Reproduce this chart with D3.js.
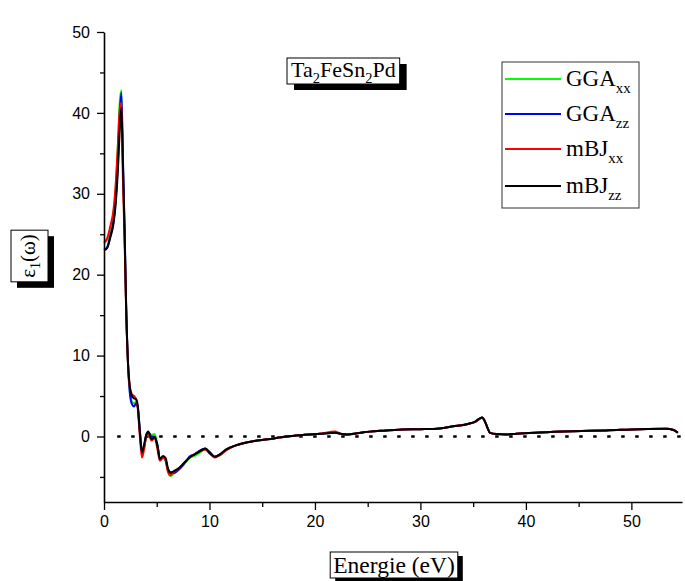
<!DOCTYPE html>
<html>
<head>
<meta charset="utf-8">
<script src="https://cdn.jsdelivr.net/npm/d3@7/dist/d3.min.js"></script>
<style>
  body { margin: 0; background: #fff; }
  svg { display: block; }
  .tick text { font-family: "Liberation Sans", Arial, sans-serif; font-size: 16px; }
  .serif { font-family: "Liberation Serif", "Times New Roman", serif; }
</style>
</head>
<body>
<div id="chart"></div>
<script>
// photon energy (eV), shared by all four curves
const energy = [
  0, 0.3, 0.6, 0.9, 1.1, 1.3, 1.5, 1.65, 1.8, 1.95,
  2.1, 2.3, 2.45, 2.65, 2.85, 3.05, 3.2, 3.4, 3.6, 3.8,
  4.0, 4.2, 4.5, 4.8, 5.1, 5.3, 5.6, 5.85, 6.05, 6.3,
  6.6, 7.0, 7.5, 7.8, 8.2, 8.6, 9.0, 9.6, 10.0, 10.5,
  11.0, 11.6, 12.5, 13.3, 14.1, 15.5, 17.3, 19, 20.5, 21.9,
  22.4, 23, 24, 25.2, 26.5, 28.3, 30, 31.8, 33.1, 34.5,
  35.2, 35.6, 35.85, 36.1, 36.35, 36.6, 37.2, 38.2, 39.1, 41.3,
  44.5, 47.6, 50.8, 53.3, 54.0, 54.4
];

const ggaXX = [
  23.9, 24.3, 25.6, 27.6, 30.5, 35.5, 41.5, 42.8, 32.5, 25.0,
  15.8, 8.3, 5.6, 4.3, 4.1, 4.3, 3.7, 0.6, -1.8, -1.4,
  0.0, 0.5, 0.2, 0.3, -1.2, -2.9, -2.6, -3.1, -4.3, -4.9,
  -4.6, -4.2, -3.6, -3.1, -2.6, -2.4, -2.1, -1.6, -1.9, -2.5,
  -2.3, -1.7, -1.1, -0.8, -0.6, -0.35, 0.0, 0.2, 0.35, 0.45,
  0.35, 0.25, 0.4, 0.6, 0.72, 0.85, 0.9, 1.0, 1.25, 1.55,
  1.85, 2.2, 2.35, 1.9, 1.1, 0.45, 0.3, 0.25, 0.35, 0.5,
  0.65, 0.75, 0.9, 0.95, 0.8, 0.45
];

const ggaZZ = [
  23.1, 23.4, 24.8, 26.6, 29.2, 33.5, 40.0, 42.5, 34.0, 26.0,
  16.2, 8.3, 5.4, 4.0, 3.7, 4.1, 3.6, 0.8, -1.8, -1.3,
  0.1, 0.5, 0.0, 0.0, -1.3, -2.9, -2.5, -2.9, -4.0, -4.4,
  -4.5, -4.2, -3.5, -3.0, -2.4, -2.2, -1.8, -1.5, -1.9, -2.5,
  -2.2, -1.6, -1.1, -0.8, -0.6, -0.35, 0.0, 0.2, 0.35, 0.45,
  0.35, 0.25, 0.4, 0.6, 0.72, 0.85, 0.9, 1.0, 1.25, 1.55,
  1.85, 2.2, 2.35, 1.9, 1.1, 0.45, 0.3, 0.25, 0.35, 0.5,
  0.65, 0.75, 0.9, 0.95, 0.8, 0.45
];

const mbjXX = [
  24.0, 24.5, 26.0, 28.0, 31.0, 35.5, 40.5, 41.3, 31.5, 24.5,
  15.5, 8.5, 6.0, 5.2, 5.0, 4.6, 3.5, 0.0, -2.6, -1.6,
  0.0, 0.4, -0.5, -0.2, -1.8, -3.0, -2.6, -3.0, -4.3, -4.8,
  -4.4, -4.1, -3.4, -3.0, -2.5, -2.2, -1.9, -1.6, -2.1, -2.6,
  -2.3, -1.7, -1.1, -0.8, -0.6, -0.35, 0.0, 0.2, 0.35, 0.6,
  0.35, 0.2, 0.4, 0.6, 0.72, 0.85, 0.9, 1.0, 1.25, 1.55,
  1.8, 2.15, 2.3, 1.9, 1.1, 0.45, 0.3, 0.25, 0.35, 0.5,
  0.65, 0.75, 0.9, 0.95, 0.8, 0.45
];

const mbjZZ = [
  23.0, 23.3, 24.6, 26.3, 28.6, 32.5, 38.0, 40.6, 33.5, 25.5,
  16.0, 8.5, 6.2, 5.0, 4.7, 4.6, 3.8, 0.5, -2.0, -1.0,
  0.2, 0.6, -0.3, -0.1, -1.4, -2.8, -2.4, -2.7, -3.9, -4.5,
  -4.3, -4.0, -3.4, -3.0, -2.5, -2.2, -1.9, -1.5, -2.0, -2.5,
  -2.2, -1.6, -1.1, -0.8, -0.6, -0.35, 0.0, 0.2, 0.35, 0.45,
  0.35, 0.25, 0.4, 0.6, 0.72, 0.85, 0.9, 1.0, 1.25, 1.55,
  1.85, 2.2, 2.35, 1.9, 1.1, 0.45, 0.3, 0.25, 0.35, 0.5,
  0.65, 0.75, 0.9, 0.95, 0.8, 0.45
];

const seriesNames = ['GGA', 'GGA', 'mBJ', 'mBJ'];
const seriesSubs = ['xx', 'zz', 'xx', 'zz'];
const seriesValues = [ggaXX, ggaZZ, mbjXX, mbjZZ];
const seriesColors = ['#00ff00', '#0000ff', '#ff0000', '#000000'];

const xMajor = [0, 10, 20, 30, 40, 50];
const xMinor = [5, 15, 25, 35, 45];
const yMajor = [0, 10, 20, 30, 40, 50];
const yMinor = [-5, 5, 15, 25, 35, 45];

const width = 685, height = 581;

const svg = d3.select('#chart').append('svg')
  .attr('width', width)
  .attr('height', height);

svg.append('rect').attr('width', width).attr('height', height).attr('fill', '#fff');

const x = d3.scaleLinear().domain([0, 54.8]).range([104, 682]);
const y = d3.scaleLinear().domain([-8.1, 50]).range([502, 32]);

// zero reference line (dotted)
svg.append('line')
  .attr('x1', x(1.25)).attr('x2', x(54.8))
  .attr('y1', y(0)).attr('y2', y(0))
  .attr('stroke', '#000')
  .attr('stroke-width', 2.6)
  .attr('stroke-dasharray', '3.5 10.5');

// curves
const line = d3.line()
  .x(d => x(d[0]))
  .y(d => y(d[1]))
  .curve(d3.curveMonotoneX);

seriesValues.forEach((vals, i) => {
  const pts = energy.map((e, j) => [e, vals[j]]).filter(p => p[1] !== undefined);
  svg.append('path')
    .datum(pts)
    .attr('fill', 'none')
    .attr('stroke', seriesColors[i])
    .attr('stroke-width', 2)
    .attr('stroke-linejoin', 'round')
    .attr('d', line);
});

// axes
svg.append('g')
  .attr('transform', `translate(0,${y.range()[0]})`)
  .call(d3.axisBottom(x).tickValues(xMajor).tickSize(8).tickSizeOuter(0).tickPadding(6));
svg.append('g')
  .attr('transform', `translate(0,${y.range()[0]})`)
  .call(d3.axisBottom(x).tickValues(xMinor).tickSize(5).tickSizeOuter(0).tickFormat(''))
  .select('.domain').remove();

svg.append('g')
  .attr('transform', `translate(${x.range()[0]},0)`)
  .call(d3.axisLeft(y).tickValues(yMajor).tickSize(7).tickSizeOuter(0).tickPadding(7));
svg.append('g')
  .attr('transform', `translate(${x.range()[0]},0)`)
  .call(d3.axisLeft(y).tickValues(yMinor).tickSize(4).tickSizeOuter(0).tickFormat(''))
  .select('.domain').remove();

svg.selectAll('.domain').attr('stroke-width', 1.6);
svg.selectAll('.tick line').attr('stroke-width', 1.3);
svg.selectAll('.tick text').attr('fill', '#000');

// boxed label with drop shadow; pad = [left, top, right, bottom]
function shadowBox(g, pad, off) {
  const bb = g.node().getBBox();
  const bx = bb.x - pad[0], by = bb.y - pad[1];
  const bw = bb.width + pad[0] + pad[2], bh = bb.height + pad[1] + pad[3];
  g.insert('rect', ':first-child')
    .attr('x', bx).attr('y', by).attr('width', bw).attr('height', bh)
    .attr('fill', '#fff').attr('stroke', '#000').attr('stroke-width', 1);
  g.insert('rect', ':first-child')
    .attr('x', bx + off[0]).attr('y', by + off[1]).attr('width', bw).attr('height', bh)
    .attr('fill', '#000');
}

// title
const title = svg.append('g').attr('class', 'serif');
const tt = title.append('text').attr('x', 291).attr('y', 77).attr('font-size', 22);
tt.append('tspan').text('Ta');
tt.append('tspan').attr('font-size', 14.5).attr('dy', 6).text('2');
tt.append('tspan').attr('dy', -6).text('FeSn');
tt.append('tspan').attr('font-size', 14.5).attr('dy', 6).text('2');
tt.append('tspan').attr('dy', -6).text('Pd');
shadowBox(title, [4, -1, 4, -2], [7, 6]);

// x label
const xl = svg.append('g').attr('class', 'serif');
xl.append('text').attr('x', 394).attr('y', 573).attr('text-anchor', 'middle')
  .attr('font-size', 23.5).text('Energie (eV)');
shadowBox(xl, [3, 0, 3, 0], [5, 4]);

// y label (rotated: local +y is screen right, local -x is screen down)
const yl = svg.append('g').attr('class', 'serif')
  .attr('transform', 'translate(35,256) rotate(-90)');
const yt = yl.append('text').attr('x', 0).attr('y', 0).attr('text-anchor', 'middle').attr('font-size', 21);
yt.append('tspan').text('ε');
yt.append('tspan').attr('font-size', 14).attr('dy', 5).text('1');
yt.append('tspan').attr('dy', -5).text('(ω)');
shadowBox(yl, [4, 5, 4, 5], [-6, 6]);

// legend
const legend = svg.append('g').attr('class', 'serif');
legend.append('rect')
  .attr('x', 502).attr('y', 62).attr('width', 137).attr('height', 146)
  .attr('fill', '#fff').attr('stroke', '#333').attr('stroke-width', 1);
const rowY = [79, 114, 149, 186];
seriesValues.forEach((vals, i) => {
  legend.append('line')
    .attr('x1', 505).attr('x2', 561)
    .attr('y1', rowY[i]).attr('y2', rowY[i])
    .attr('stroke', seriesColors[i]).attr('stroke-width', 2);
  const t = legend.append('text').attr('x', 566).attr('y', rowY[i] + 7).attr('font-size', 23);
  t.append('tspan').text(seriesNames[i]);
  t.append('tspan').attr('font-size', 15).attr('dy', 7).text(seriesSubs[i]);
});
</script>
</body>
</html>
